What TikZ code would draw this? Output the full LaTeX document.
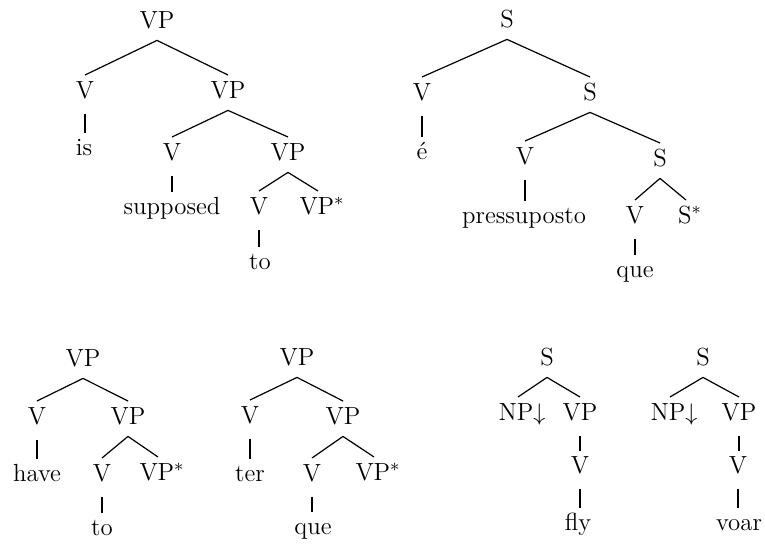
\documentclass[tikz,border=0pt]{standalone}
\begin{document}
\begin{tikzpicture}[x=0.5pt,y=-0.5pt,
  lbl/.style={anchor=base, inner sep=0pt, outer sep=0pt, text height=8.5pt, text depth=2.4pt, font=\fontsize{12.4}{14}\selectfont},
  br/.style={line width=0.6pt},
  un/.style={line width=0.6pt, shorten <=5.5pt, shorten >=2.5pt}]
\useasboundingbox (0,0) rectangle (765,546);
\def\ap{-3.8pt}\def\ch{3pt}
% Tree 1
\node[lbl] (a1) at (157,28) {VP};
\node[lbl] (a2) at (85,98) {V};
\node[lbl] (a3) at (228,98) {VP};
\node[lbl] (a4) at (84,155) {is};
\node[lbl] (a5) at (172,160) {V};
\node[lbl] (a6) at (288,160) {VP};
\node[lbl] (a7) at (172,214) {supposed};
\node[lbl] (a8) at (259,214) {V};
\node[lbl] (a9) at (322,214) {VP$^*$};
\node[lbl] (a10) at (260,269) {to};
\draw[br] ([yshift=\ap]a1.south) -- ([yshift=\ch]a2.north);
\draw[br] ([yshift=\ap]a1.south) -- ([yshift=\ch]a3.north);
\draw[un] (a2.south) -- (a2.south |- a4.north);
\draw[br] ([yshift=\ap]a3.south) -- ([yshift=\ch]a5.north);
\draw[br] ([yshift=\ap]a3.south) -- ([yshift=\ch]a6.north);
\draw[un] (a5.south) -- (a5.south |- a7.north);
\draw[br] ([yshift=\ap]a6.south) -- ([yshift=\ch]a8.north);
\draw[br] ([yshift=\ap]a6.south) -- ([xshift=-2pt,yshift=\ch]a9.north);
\draw[un] (a8.south) -- (a8.south |- a10.north);
% Tree 2
\node[lbl] (b1) at (507,27) {S};
\node[lbl] (b2) at (422,100) {V};
\node[lbl] (b3) at (590,100) {S};
\node[lbl] (b4) at (422,159) {\'e};
\node[lbl] (b5) at (525,164) {V};
\node[lbl] (b6) at (660,166) {S};
\node[lbl] (b7) at (524,223) {pressuposto};
\node[lbl] (b8) at (635,223) {V};
\node[lbl] (b9) at (690,223) {S$^*$};
\node[lbl] (b10) at (635,277) {que};
\draw[br] ([yshift=\ap]b1.south) -- ([yshift=\ch]b2.north);
\draw[br] ([yshift=\ap]b1.south) -- ([yshift=\ch]b3.north);
\draw[un] (b2.south) -- (b2.south |- b4.north);
\draw[br] ([yshift=\ap]b3.south) -- ([yshift=\ch]b5.north);
\draw[br] ([yshift=\ap]b3.south) -- ([yshift=\ch]b6.north);
\draw[un] (b5.south) -- (b5.south |- b7.north);
\draw[br] ([yshift=\ap]b6.south) -- ([yshift=\ch]b8.north);
\draw[br] ([yshift=\ap]b6.south) -- ([xshift=-2pt,yshift=\ch]b9.north);
\draw[un] (b8.south) -- (b8.south |- b10.north);
% Tree 3
\node[lbl] (c1) at (83,366) {VP};
\node[lbl] (c2) at (37,424) {V};
\node[lbl] (c3) at (128,424) {VP};
\node[lbl] (c4) at (37,481) {have};
\node[lbl] (c5) at (102,481) {V};
\node[lbl] (c6) at (162,480) {VP$^*$};
\node[lbl] (c7) at (102,535) {to};
\draw[br] ([yshift=\ap]c1.south) -- ([yshift=\ch]c2.north);
\draw[br] ([yshift=\ap]c1.south) -- ([yshift=\ch]c3.north);
\draw[un] (c2.south) -- (c2.south |- c4.north);
\draw[br] ([yshift=\ap]c3.south) -- ([yshift=\ch]c5.north);
\draw[br] ([yshift=\ap]c3.south) -- ([xshift=-2pt,yshift=\ch]c6.north);
\draw[un] (c5.south) -- (c5.south |- c7.north);
% Tree 4
\node[lbl] (d1) at (297,365) {VP};
\node[lbl] (d2) at (250,423) {V};
\node[lbl] (d3) at (343,424) {VP};
\node[lbl] (d4) at (250,481) {ter};
\node[lbl] (d5) at (312,481) {V};
\node[lbl] (d6) at (378,480) {VP$^*$};
\node[lbl] (d7) at (313,534) {que};
\draw[br] ([yshift=\ap]d1.south) -- ([yshift=\ch]d2.north);
\draw[br] ([yshift=\ap]d1.south) -- ([yshift=\ch]d3.north);
\draw[un] (d2.south) -- (d2.south |- d4.north);
\draw[br] ([yshift=\ap]d3.south) -- ([yshift=\ch]d5.north);
\draw[br] ([yshift=\ap]d3.south) -- ([xshift=-2pt,yshift=\ch]d6.north);
\draw[un] (d5.south) -- (d5.south |- d7.north);
% Tree 5
\node[lbl] (e1) at (547,365) {S};
\node[lbl] (e2) at (522,420) {NP$\downarrow$};
\node[lbl] (e3) at (580,420) {VP};
\node[lbl] (e4) at (580,473) {V};
\node[lbl] (e5) at (578,530) {fly};
\draw[br] ([yshift=\ap]e1.south) -- ([xshift=-2pt,yshift=\ch]e2.north);
\draw[br] ([yshift=\ap]e1.south) -- ([yshift=\ch]e3.north);
\draw[un] (e3.south) -- (e3.south |- e4.north);
\draw[un] (e4.south) -- (e4.south |- e5.north);
% Tree 6
\node[lbl] (f1) at (703,365) {S};
\node[lbl] (f2) at (674,420) {NP$\downarrow$};
\node[lbl] (f3) at (739,420) {VP};
\node[lbl] (f4) at (738,473) {V};
\node[lbl] (f5) at (739,530) {voar};
\draw[br] ([yshift=\ap]f1.south) -- ([xshift=-2pt,yshift=\ch]f2.north);
\draw[br] ([yshift=\ap]f1.south) -- ([yshift=\ch]f3.north);
\draw[un] (f3.south) -- (f3.south |- f4.north);
\draw[un] (f4.south) -- (f4.south |- f5.north);
\end{tikzpicture}
\end{document}
